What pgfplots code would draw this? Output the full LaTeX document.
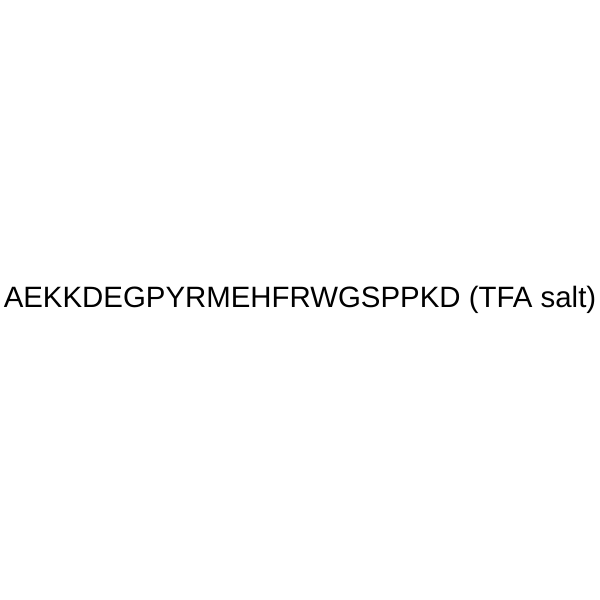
\documentclass[border=0pt]{standalone}
\usepackage{pgfplots}
\pgfplotsset{compat=1.18}
\usepackage{fontspec}
\setmainfont{Liberation Sans}
\begin{document}
\begin{tikzpicture}
\begin{axis}[
  name=main,
  scale only axis,
  width=300bp, height=300bp,
  xmin=0, xmax=1, ymin=0, ymax=1,
  hide axis,
  clip=false,
]
\addplot [draw=none, mark=none] coordinates {(0,0) (1,1)};
\node[font=\fontsize{14.7bp}{17bp}\selectfont, inner sep=0pt]
  at (axis cs:0.5,0.5) {AEKKDEGPYRMEHFRWGSPPKD (TFA salt)};
\end{axis}
\pgfresetboundingbox
\path (main.south west) rectangle (main.north east);
\end{tikzpicture}
\end{document}
